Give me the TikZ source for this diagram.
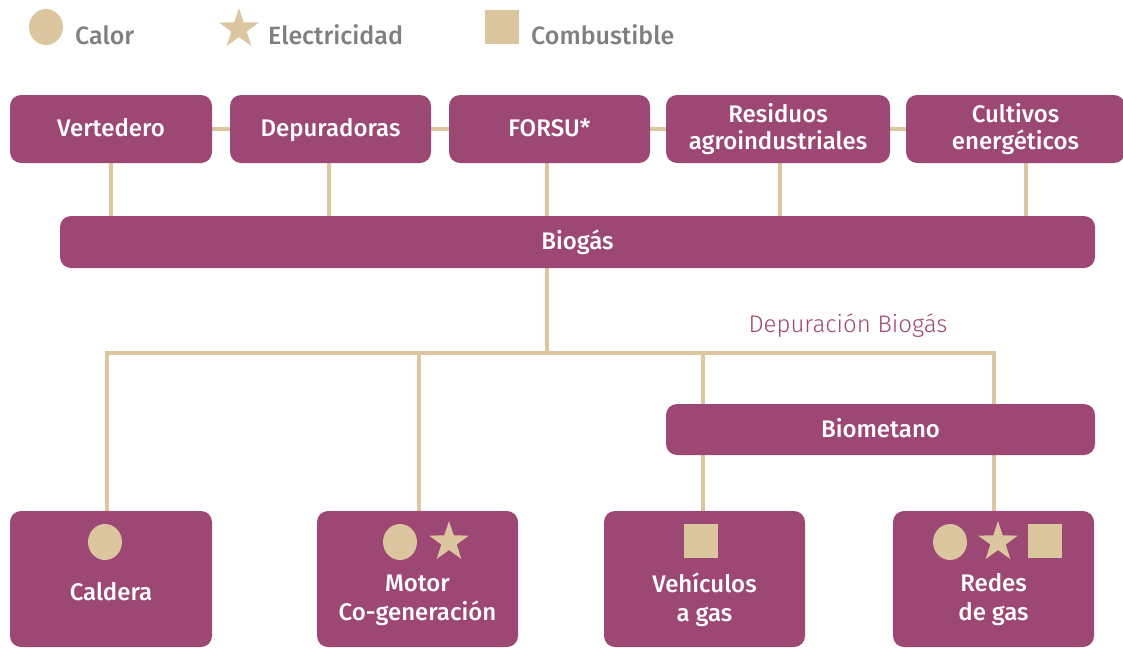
\documentclass[tikz,border=0pt]{standalone}
\usepackage{fontspec}
\setmainfont{Fira Sans}[BoldFont={Fira Sans Medium}]
\newfontfamily\lightfont{Fira Sans Light}
\usetikzlibrary{shapes.geometric,backgrounds}
\definecolor{plum}{HTML}{9D4774}
\definecolor{sand}{HTML}{DBC6A0}
\definecolor{greytxt}{HTML}{7F7F7F}
\begin{document}
\begin{tikzpicture}[x=1pt,y=-1pt,
  box/.style={fill=plum, rounded corners=11pt, text=white, font=\bfseries\fontsize{24}{27}\selectfont, align=center, inner sep=0pt},
  oneline/.style={text height=20pt, text depth=5pt},
  btext/.style={text=white, font=\bfseries\fontsize{24}{29}\selectfont, align=center, inner sep=0pt},
  conn/.style={draw=sand, line width=4pt},
  dot/.style={ellipse, fill=sand, minimum width=34pt, minimum height=36pt, inner sep=0pt},
  starico/.style={star, star points=5, star point ratio=2.6, fill=sand, minimum size=42pt, inner sep=0pt},
  sqico/.style={rectangle, fill=sand, minimum size=34pt, inner sep=0pt},
  legtext/.style={text=greytxt, font=\bfseries\fontsize{25}{28}\selectfont, anchor=west, inner sep=0pt}]
\useasboundingbox (0,0) rectangle (1123,648);

% legend
\node[dot] (lcal) at (46,27) {};
\node[legtext] (lcalt) at (75,35) {Calor};
\node[starico] (lele) at (239,29) {};
\node[legtext] (lelet) at (268,35) {Electricidad};
\node[sqico] (lcom) at (501.5,27) {};
\node[legtext] (lcomt) at (531,35) {Combustible};

% sources
\node[box, oneline, minimum width=202pt, minimum height=68pt] (vert) at (111,129) {Vertedero};
\node[box, oneline, minimum width=201pt, minimum height=68pt] (dep) at (330.5,129) {Depuradoras};
\node[box, oneline, minimum width=201pt, minimum height=68pt] (fors) at (549.5,129) {FORSU*};
\node[box, minimum width=224pt, minimum height=68pt] (res) at (778,129) {Residuos\\agroindustriales};
\node[box, minimum width=219pt, minimum height=68pt] (cult) at (1015.5,129) {Cultivos\\energéticos};

\node[box, oneline, minimum width=1035pt, minimum height=52pt] (biogas) at (577.5,242) {Biogás};
\node[text=plum, font=\lightfont\fontsize{24}{27}\selectfont, inner sep=0pt] (dlab) at (848,326) {Depuración Biogás};
\node[box, oneline, minimum width=429pt, minimum height=51pt] (biomet) at (880.5,429.5) {Biometano};

% uses
\node[box, minimum width=202pt, minimum height=136pt] (cald) at (111,579) {};
\node[box, minimum width=201pt, minimum height=136pt] (motor) at (417.5,579) {};
\node[box, minimum width=201pt, minimum height=136pt] (veh) at (704.5,579) {};
\node[box, minimum width=201pt, minimum height=136pt] (redes) at (993.5,579) {};

\node[btext] (caldt) at (111,592) {Caldera};
\node[btext] (motort) at (417.5,600) {Motor\\Co-generación};
\node[btext] (veht) at (704.5,600) {Vehículos\\a gas};
\node[btext] (redest) at (993.5,600) {Redes\\de gas};

\node[dot] (c1) at (105,542) {};
\node[dot] (c2) at (400,542) {};
\node[starico] (s2) at (449,542) {};
\node[sqico] (q3) at (701,541) {};
\node[dot] (c4) at (950,542) {};
\node[starico] (s4) at (998,542) {};
\node[sqico] (q4) at (1045,541) {};

\coordinate (bus) at (547,353);

\begin{pgfonlayer}{background}
\draw[conn] (vert.center) -- (cult.center);
\draw[conn] (vert.south) -- (biogas.north -| vert.south);
\draw[conn] (dep.south -| 329,0) -- (biogas.north -| 329,0);
\draw[conn] (fors.south -| 547,0) -- (biogas.north -| 547,0);
\draw[conn] (res.south -| 780,0) -- (biogas.north -| 780,0);
\draw[conn] (cult.south -| 1026,0) -- (biogas.north -| 1026,0);
\draw[conn] (biogas.south -| bus) -- (bus);
\draw[conn] (cald.north -| 107,0) |- (994,353) -- (biomet.north -| 994,0);
\draw[conn] (motor.north -| 419,0) -- (419,353);
\draw[conn] (biomet.north -| 703,0) -- (703,353);
\draw[conn] (biomet.south -| 703,0) -- (veh.north -| 703,0);
\draw[conn] (biomet.south -| 994,0) -- (redes.north -| 994,0);
\end{pgfonlayer}
\end{tikzpicture}
\end{document}
